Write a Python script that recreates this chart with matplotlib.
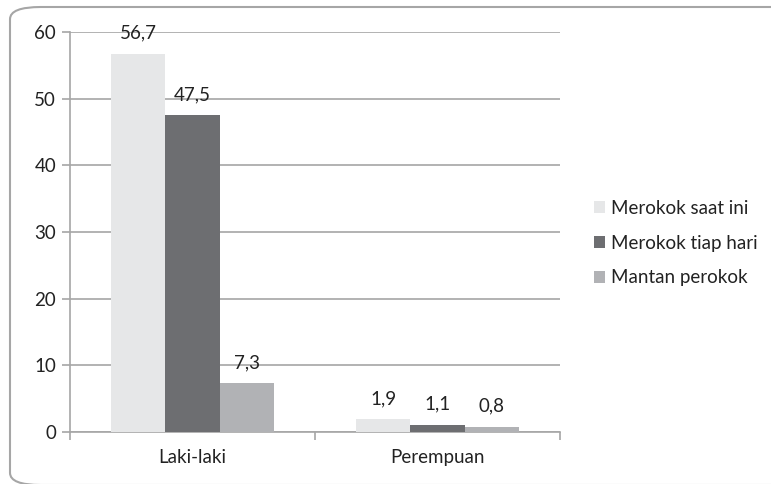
import numpy as np
import matplotlib.pyplot as plt
from matplotlib.patches import FancyBboxPatch

plt.rcParams['font.family'] = ['Lato', 'DejaVu Sans']

categories = ['Laki-laki', 'Perempuan']
series_names = ['Merokok saat ini', 'Merokok tiap hari', 'Mantan perokok']
values = [
    [56.7, 1.9],   # merokok saat ini
    [47.5, 1.1],   # merokok tiap hari
    [7.3, 0.8],    # mantan perokok
]
labels = [
    ['56,7', '1,9'],
    ['47,5', '1,1'],
    ['7,3', '0,8'],
]
colors = ['#e6e7e8', '#6d6e71', '#b1b2b5']
txt_col = '#222222'

fig = plt.figure(figsize=(7.71, 4.84), dpi=100)

# rounded frame round the chart
frame = FancyBboxPatch((10 / 771, 1 - 485 / 484), 800 / 771, 478 / 484,
                       boxstyle='round,pad=0,rounding_size=0.04',
                       transform=fig.transFigure, facecolor='none',
                       edgecolor='#a6a6a6', linewidth=1.5, zorder=0,
                       mutation_aspect=484 / 771)
fig.patches.append(frame)

ax = fig.add_axes([70 / 771, 1 - 432 / 484, 490 / 771, 400 / 484])

x = np.arange(len(categories))
w = 1 / 4.5
for i, (name, vals) in enumerate(zip(series_names, values)):
    pos = x + (i - 1) * w
    ax.bar(pos, vals, width=w, color=colors[i], label=name, zorder=3)
    for p, v, lab in zip(pos, vals, labels[i]):
        ax.annotate(lab, (p, v), xytext=(0, 15), textcoords='offset points',
                    ha='center', va='center', fontsize=13.5, color=txt_col)

ax.set_xlim(-0.5, 1.5)
ax.set_ylim(0, 60)
ax.set_yticks(range(0, 61, 10))
ax.yaxis.grid(True, color='#a6a6a6', linewidth=1.2, zorder=0)
ax.set_axisbelow(True)

# category dividers as x ticks, labels in the middle
ax.set_xticks([-0.5, 0.5, 1.5])
ax.set_xticklabels([])
ax.set_xticks(x, minor=True)
ax.set_xticklabels(categories, minor=True)
ax.tick_params(axis='x', which='major', length=6, width=1.2, color='#a6a6a6')
ax.tick_params(axis='x', which='minor', length=0, pad=12, labelsize=13.5,
               labelcolor=txt_col)
ax.tick_params(axis='y', length=6, width=1.2, color='#a6a6a6', pad=4,
               labelsize=13.5, labelcolor=txt_col)

for s in ['top', 'right']:
    ax.spines[s].set_visible(False)
for s in ['left', 'bottom']:
    ax.spines[s].set_color('#a6a6a6')
    ax.spines[s].set_linewidth(1.2)

fig.legend(loc='center left', bbox_to_anchor=(594 / 771, 1 - 243 / 484),
           frameon=False, fontsize=13.5, handlelength=0.6, handleheight=0.6,
           handletextpad=0.3, labelspacing=0.95, borderaxespad=0,
           borderpad=0, labelcolor=txt_col)

fig.savefig('out.png', dpi=100)
